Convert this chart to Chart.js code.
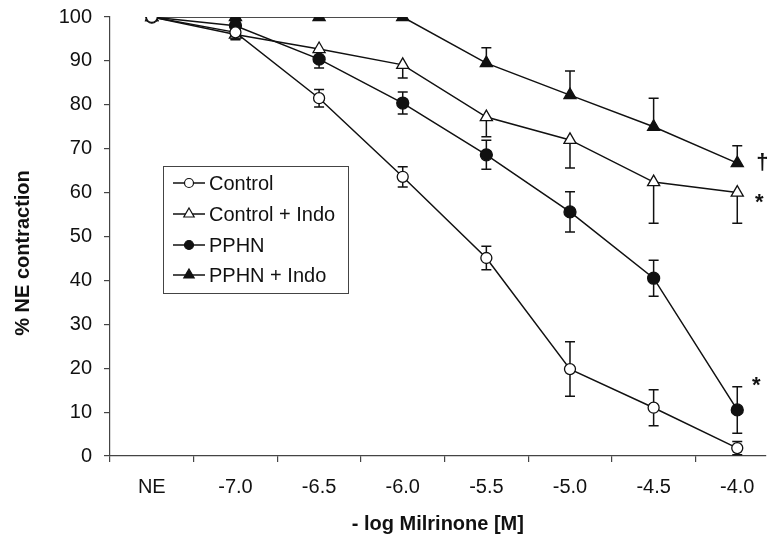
<!DOCTYPE html>
<html>
<head>
<meta charset="utf-8">
<script src="https://cdn.jsdelivr.net/npm/chart.js"></script>
<style>
  body { margin: 0; background: #fff; }
  canvas { display: block; }
</style>
</head>
<body>
<canvas id="milrinoneChart" width="774" height="540"></canvas>
<script>
const doseLabels = ['NE', '-7.0', '-6.5', '-6.0', '-5.5', '-5.0', '-4.5', '-4.0'];
const yTicks = [0, 10, 20, 30, 40, 50, 60, 70, 80, 90, 100];

const controlValues = [100, 96.5, 81.5, 63.6, 45.1, 19.8, 11.0, 1.8];
const controlErrors = [0, 1.5, 2.0, 2.3, 2.7, 6.2, 4.1, 1.5];
const controlIndoValues = [100, 96, 92.7, 89.1, 77.2, 72.0, 62.4, 60.0];
const controlIndoErrors = [0, 1.2, 0, 3.0, 4.5, 6.4, 9.4, 7.0];
const pphnValues = [100, 98, 90.4, 80.4, 68.6, 55.6, 40.5, 10.5];
const pphnErrors = [0, 1, 2.0, 2.5, 3.3, 4.6, 4.1, 5.3];
const pphnIndoValues = [100, 100, 100, 100, 89.5, 82.2, 75.0, 66.7];
const pphnIndoErrors = [0, 0, 0, 0, 3.5, 5.5, 6.5, 4.0];

const FONT = "'Liberation Sans', Arial, sans-serif";
const INK = '#111';

function toPoints(values) {
  return values.map((v, i) => ({ x: i, y: v }));
}

function makeDataset(label, values, errors, errDir, style, filled, radius) {
  return {
    label: label,
    data: toPoints(values),
    errors: errors,
    errDir: errDir,
    borderColor: INK,
    borderWidth: 1.5,
    pointStyle: style,
    pointRadius: radius,
    pointBackgroundColor: filled ? INK : '#fff',
    pointBorderColor: INK,
    pointBorderWidth: 1.3,
    tension: 0,
    fill: false
  };
}

const datasets = [
  makeDataset('Control', controlValues, controlErrors, 'both', 'circle', false, 5.5),
  makeDataset('Control + Indo', controlIndoValues, controlIndoErrors, 'down', 'triangle', false, 7),
  makeDataset('PPHN', pphnValues, pphnErrors, 'both', 'circle', true, 6),
  makeDataset('PPHN + Indo', pphnIndoValues, pphnIndoErrors, 'up', 'triangle', true, 7)
];

// error bars, drawn under the markers
const errorBarPlugin = {
  id: 'errorBars',
  beforeDatasetsDraw(chart) {
    const ctx = chart.ctx;
    const xs = chart.scales.x, ys = chart.scales.y;
    ctx.save();
    ctx.strokeStyle = INK;
    ctx.lineWidth = 1.5;
    chart.data.datasets.forEach((ds) => {
      ds.data.forEach((p, i) => {
        const e = ds.errors[i];
        if (!e) return;
        const x = xs.getPixelForValue(p.x);
        const top = ys.getPixelForValue(ds.errDir === 'down' ? p.y : p.y + e);
        const bottom = ys.getPixelForValue(ds.errDir === 'up' ? p.y : p.y - e);
        ctx.beginPath();
        ctx.moveTo(x, top);
        ctx.lineTo(x, bottom);
        if (ds.errDir !== 'down') { ctx.moveTo(x - 5, top); ctx.lineTo(x + 5, top); }
        if (ds.errDir !== 'up') { ctx.moveTo(x - 5, bottom); ctx.lineTo(x + 5, bottom); }
        ctx.stroke();
      });
    });
    ctx.restore();
  }
};

function drawMarker(ctx, style, filled, x, y, r) {
  ctx.beginPath();
  if (style === 'circle') {
    ctx.arc(x, y, r, 0, Math.PI * 2);
  } else {
    ctx.moveTo(x, y - r);
    ctx.lineTo(x + r * 0.866, y + r * 0.5);
    ctx.lineTo(x - r * 0.866, y + r * 0.5);
    ctx.closePath();
  }
  ctx.fillStyle = filled ? INK : '#fff';
  ctx.fill();
  ctx.stroke();
}

// legend box, significance marks and rotated y title
const overlayPlugin = {
  id: 'overlay',
  afterDraw(chart) {
    const ctx = chart.ctx;
    const xs = chart.scales.x, ys = chart.scales.y;
    ctx.save();

    // legend
    ctx.fillStyle = '#fff';
    ctx.fillRect(163, 166, 185, 127);
    ctx.strokeStyle = '#444';
    ctx.lineWidth = 1;
    ctx.strokeRect(163.5, 166.5, 185, 127);
    const rows = [183, 214, 245, 275];
    chart.data.datasets.forEach((ds, i) => {
      const y = rows[i];
      ctx.strokeStyle = INK;
      ctx.lineWidth = 1.5;
      ctx.beginPath();
      ctx.moveTo(173, y);
      ctx.lineTo(205, y);
      ctx.stroke();
      ctx.lineWidth = 1.2;
      drawMarker(ctx, ds.pointStyle, ds.pointBackgroundColor === INK, 189, y, ds.pointStyle === 'circle' ? 4.5 : 6);
      ctx.fillStyle = INK;
      ctx.font = '20px ' + FONT;
      ctx.textAlign = 'left';
      ctx.textBaseline = 'middle';
      ctx.fillText(ds.label, 209, y + 1);
    });

    // significance marks beside last points
    const last = doseLabels.length - 1;
    ctx.fillStyle = INK;
    ctx.textAlign = 'center';
    ctx.textBaseline = 'middle';
    ctx.font = 'bold 22px ' + FONT;
    const lx = xs.getPixelForValue(last);
    ctx.fillText('*', lx + 22, ys.getPixelForValue(controlIndoValues[last]) + 10);
    ctx.fillText('*', lx + 19, ys.getPixelForValue(pphnValues[last]) - 24);
    ctx.font = 'bold 22px ' + FONT;
    ctx.fillText('\u2020', lx + 25, ys.getPixelForValue(pphnIndoValues[last]));

    // y axis title
    ctx.translate(23, 253);
    ctx.rotate(-Math.PI / 2);
    ctx.font = 'bold 20px ' + FONT;
    ctx.fillText('% NE contraction', 0, 0);
    ctx.restore();
  }
};

const ctx = document.getElementById('milrinoneChart');
new Chart(ctx, {
  type: 'line',
  data: { datasets: datasets },
  options: {
    responsive: false,
    animation: false,
    layout: { padding: { top: 17, right: 0, left: 0, bottom: 0 } },
    plugins: {
      legend: { display: false },
      tooltip: { enabled: false }
    },
    scales: {
      x: {
        type: 'linear',
        min: -0.5,
        max: 7.34,
        afterBuildTicks: (scale) => {
          const t = [];
          for (let v = -0.5; v <= 7; v += 0.5) t.push({ value: v });
          scale.ticks = t;
        },
        afterFit: (scale) => {
          scale.height = 84;
          scale.paddingLeft = 0;
          scale.paddingRight = 0;
        },
        grid: {
          drawOnChartArea: false,
          drawTicks: true,
          tickLength: 6,
          lineWidth: 1.2,
          color: (c) => (c.tick && Number.isInteger(c.tick.value)) ? 'rgba(0,0,0,0)' : '#444'
        },
        border: { display: true, color: '#444', width: 1.2 },
        ticks: {
          autoSkip: false,
          maxRotation: 0,
          padding: 13,
          color: INK,
          font: { family: FONT, size: 20 },
          callback: (v) => Number.isInteger(v) ? doseLabels[v] : ''
        },
        title: {
          display: true,
          text: '- log Milrinone [M]',
          color: INK,
          font: { family: FONT, size: 20, weight: 'bold' },
          padding: { top: 0, bottom: 4 }
        }
      },
      y: {
        min: 0,
        max: 100,
        afterBuildTicks: (scale) => { scale.ticks = yTicks.map((v) => ({ value: v })); },
        afterFit: (scale) => {
          scale.width = 110;
          scale.paddingTop = 0;
          scale.paddingBottom = 0;
        },
        grid: {
          drawOnChartArea: false,
          drawTicks: true,
          tickLength: 6,
          lineWidth: 1.2,
          color: '#444'
        },
        border: { display: true, color: '#444', width: 1.2 },
        ticks: {
          padding: 12,
          color: INK,
          font: { family: FONT, size: 20 }
        }
      }
    }
  },
  plugins: [errorBarPlugin, overlayPlugin]
});
</script>
</body>
</html>
